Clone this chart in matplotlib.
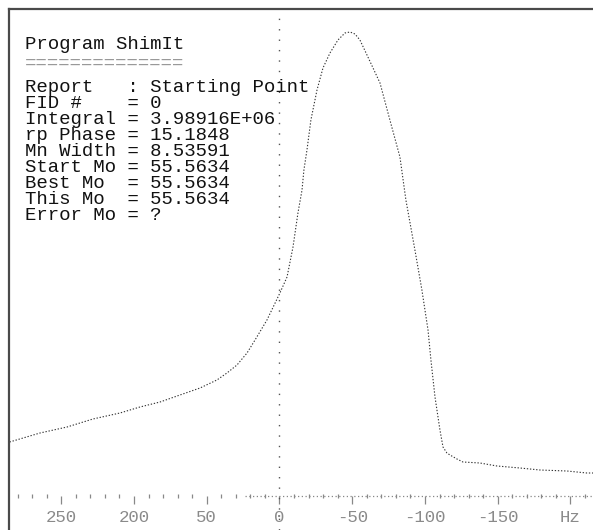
import matplotlib
matplotlib.use("Agg")
import matplotlib.pyplot as plt
from matplotlib.ticker import MultipleLocator, FixedLocator, FixedFormatter

# spectrum trace: frequency offset (Hz) and intensity (arbitrary units)
freq_hz = [185.5, 164.6, 146.0, 128.2, 109.6, 95.9, 82.1, 68.4, 54.6, 43.0,
           36.1, 29.2, 22.3, 16.8, 8.6, -0.3, -5.2, -9.3, -12.7, -15.5,
           -16.8, -18.9, -21.6, -25.8, -29.9, -34.7, -40.2, -45.0, -48.5, -51.9,
           -55.3, -60.8, -69.1, -75.9, -82.8, -86.9, -93.1, -97.9, -102.1, -104.1,
           -106.9, -110.3, -112.4, -115.1, -117.2, -122.0, -126.1, -137.8, -149.5, -165.3,
           -179.0, -197.6, -211.3, -215.5]
intensity = [54, 63, 69, 77, 83, 89, 94, 101, 108, 116,
             123, 131, 143, 156, 176, 203, 219, 249, 283, 306,
             326, 346, 376, 406, 428, 443, 456, 463, 464, 462,
             456, 439, 413, 376, 339, 296, 246, 206, 166, 136,
             99, 66, 49, 43, 41, 37, 34, 33, 30, 28,
             26, 25, 23, 23]

tick_pos = [150, 100, 50, 0, -50, -100, -150, -200]
tick_labels = ["250", "200", "50", "0", "-50", "-100", "-150", "Hz"]

title = "Program ShimIt"
report_keys = ["Report   :", "FID #    =", "Integral =", "rp Phase =", "Mn Width =",
               "Start Mo =", "Best Mo  =", "This Mo  =", "Error Mo ="]
report_vals = ["Starting Point", "0", "3.98916E+06", "15.1848", "8.53591",
               "55.5634", "55.5634", "55.5634", "?"]

W, H = 593, 530
fig = plt.figure(figsize=(W / 100, H / 100), dpi=100)
fig.patch.set_facecolor("white")

# frame starts a little inside the top-left corner and runs off the page
ax = fig.add_axes([9 / W, 0, 1 - 9 / W, 1 - 9 / H])
ax.set_xlim(185.9, -215.5)
ax.set_ylim(-34, 487)

for side in ["right", "bottom"]:
    ax.spines[side].set_visible(False)
for side in ["left", "top"]:
    ax.spines[side].set_color("#4a4a4a")
    ax.spines[side].set_linewidth(1.6)
ax.spines["bottom"].set_position(("data", 0))

ax.plot(freq_hz, intensity, color="#333333", lw=0.8,
        linestyle=(0, (1.2, 1.6)), solid_capstyle="butt")

# zero-frequency marker and the baseline axis
ax.axvline(0, ymin=0, ymax=0.995, color="#555555", lw=1.0,
           linestyle=(0, (1, 6.5)))
ax.hlines(0, 24, -215.5, color="#888888", lw=0.9, linestyle=(0, (1, 2)))

ax.xaxis.set_major_locator(FixedLocator(tick_pos))
ax.xaxis.set_major_formatter(FixedFormatter(tick_labels))
ax.xaxis.set_minor_locator(MultipleLocator(10))
ax.tick_params(axis="x", which="major", direction="out", length=6,
               width=0.9, color="#888888", pad=4, labelsize=12.5,
               labelcolor="#8a8a8a")
ax.tick_params(axis="x", which="minor", direction="inout", length=3,
               width=0.9, color="#888888")
for lab in ax.get_xticklabels():
    lab.set_family("Liberation Mono")
ax.set_yticks([])


def px(x, y):
    return x / W, 1 - y / H


mono = dict(family="Liberation Mono", fontsize=13.7, color="#111111")
fig.text(*px(25, 49), title, va="baseline", **mono)
fig.text(*px(25, 63.5), "=" * len(title), va="center",
         family="Liberation Mono", fontsize=13.7, color="#999999")
for i, (k, v) in enumerate(zip(report_keys, report_vals)):
    fig.text(*px(25, 92 + 16 * i), k + " " + v, va="baseline", **mono)

fig.savefig("out.png", dpi=100)
